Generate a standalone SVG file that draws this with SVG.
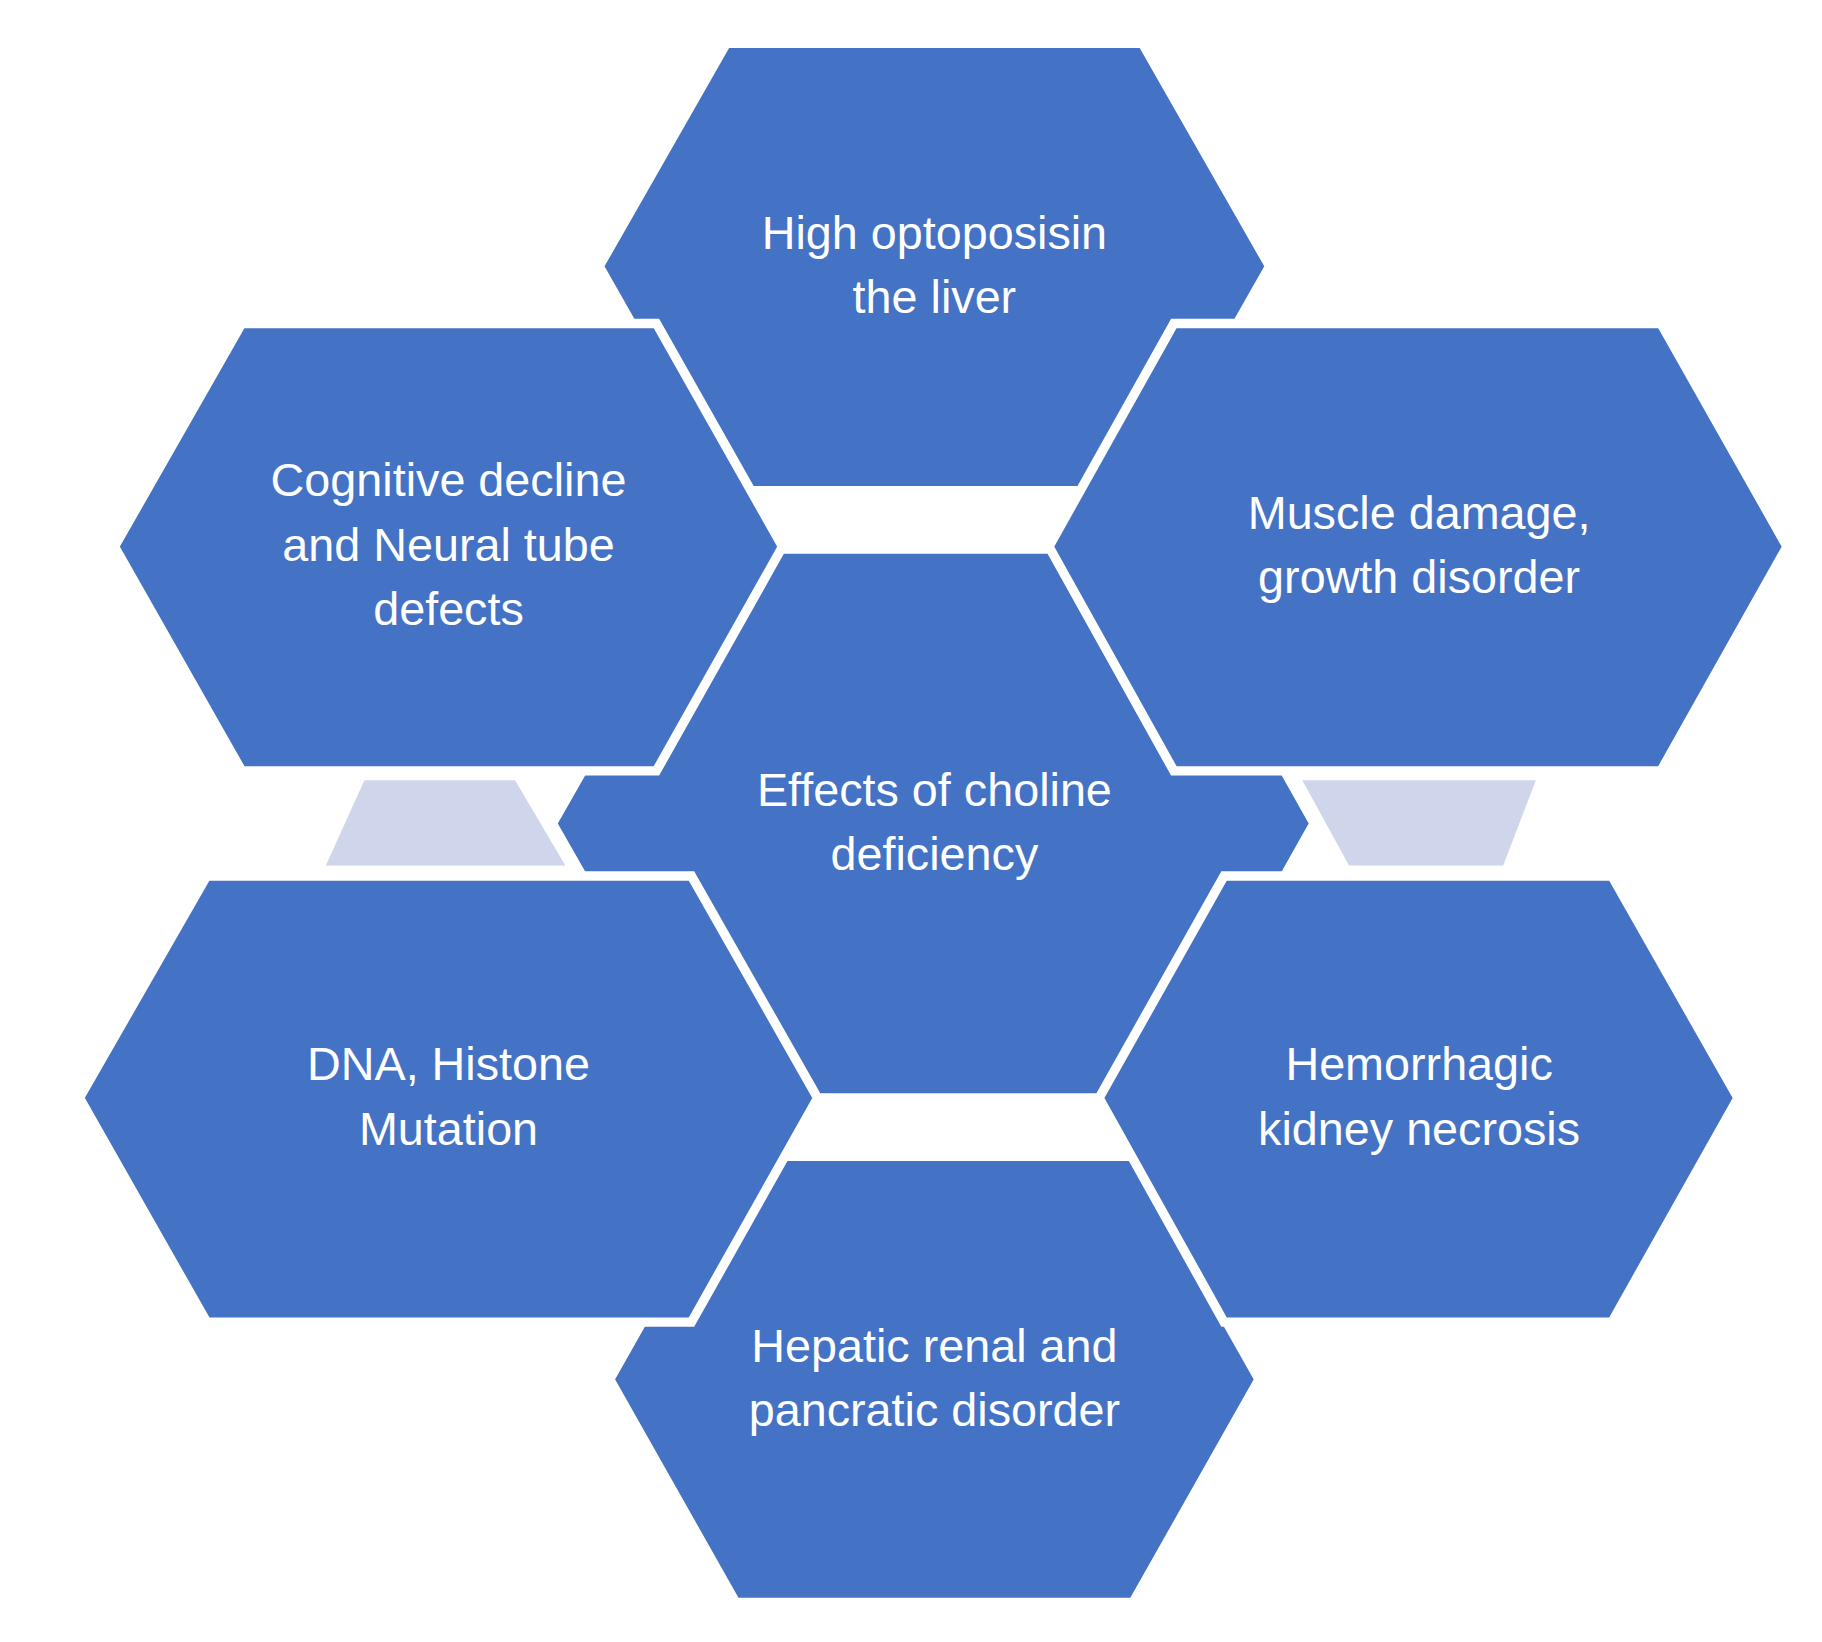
<svg xmlns="http://www.w3.org/2000/svg" width="1822" height="1642" viewBox="0 0 1822 1642">
<style>
.h{fill:#4472C4;stroke:#fff;stroke-width:8;stroke-linejoin:miter}
.l{fill:#CFD5EA}
text{font-family:"Liberation Sans",Arial,sans-serif;font-size:40px;fill:#fff;text-anchor:middle}
</style>
<rect width="1822" height="1642" fill="#fff"/>
<g transform="scale(1.168)">
<g id="connectors">
<polygon class="l" points="312,668 441,668 484,741 279,741"/>
<polygon class="l" points="1115,668 1315,668 1287,741 1155,741"/>
</g>
<g id="center"><polygon class="h" points="607,470 993,470 1125,705 993,940 607,940 473,705"/><text x="800" y="690">Effects of choline</text><text x="800" y="745">deficiency</text></g>
<g id="hepatic"><polygon class="h" points="630,990 970,990 1078,1181 970,1372 630,1372 522,1181"/><text x="800" y="1166">Hepatic renal and</text><text x="800" y="1221">pancratic disorder</text></g>
<g id="top"><polygon class="h" points="622,37 978,37 1087,228 978,420 622,420 513,228"/><text x="800" y="213">High optoposisin</text><text x="800" y="268">the liver</text></g>
<g id="cognitive"><polygon class="h" points="207,277 562,277 670,468 562,660 207,660 98,468"/><text x="384" y="425">Cognitive decline</text><text x="384" y="480">and Neural tube</text><text x="384" y="535">defects</text></g>
<g id="muscle"><polygon class="h" points="1005,277 1422,277 1530,468 1422,660 1005,660 898,468"/><text x="1215" y="453">Muscle damage,</text><text x="1215" y="508">growth disorder</text></g>
<g id="dna"><polygon class="h" points="177,750 592,750 700,940 592,1132 177,1132 68,940"/><text x="384" y="925">DNA, Histone</text><text x="384" y="980">Mutation</text></g>
<g id="hemorrhagic"><polygon class="h" points="1048,750 1380,750 1488,940 1380,1132 1048,1132 941,940"/><text x="1215" y="925">Hemorrhagic</text><text x="1215" y="980">kidney necrosis</text></g>
</g>
</svg>
